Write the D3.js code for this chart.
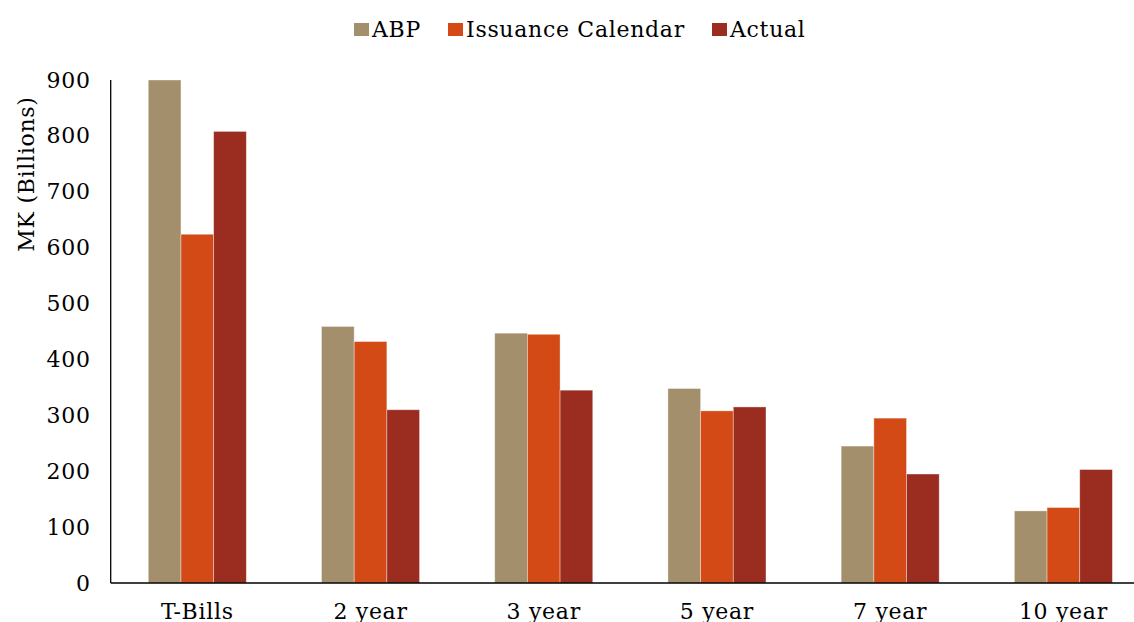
<!DOCTYPE html>
<html>
<head>
<meta charset="utf-8">
<script src="https://cdn.jsdelivr.net/npm/d3@7"></script>
<style>
  html, body { margin: 0; padding: 0; background: #fff; }
  svg { display: block; }
  text { font-family: "DejaVu Serif", "Liberation Serif", serif; fill: #000; }
</style>
</head>
<body>
<svg id="chart" width="1134" height="622"></svg>
<script>
const categories = ["T-Bills", "2 year", "3 year", "5 year", "7 year", "10 year"];
const seriesNames = ["ABP", "Issuance Calendar", "Actual"];
const abp = [900, 459, 447, 348, 245, 129];
const issuanceCalendar = [624, 432, 445, 308, 295, 135];
const actual = [808, 310, 345, 315, 195, 203];
const yTicks = [0, 100, 200, 300, 400, 500, 600, 700, 800, 900];
const colors = ["#A48F6C", "#D34A17", "#9B2C20"];

const seriesValues = [abp, issuanceCalendar, actual];

const FONT = '"DejaVu Serif", serif';
const FS = "22px";
const LS = "0.7px";

const svg = d3.select("#chart");
const mLeft = 110.7, mRight = 1150, mTop = 80, mBottom = 583;

const x0 = d3.scaleBand().domain(categories).range([mLeft, mRight])
  .paddingInner(0.434).paddingOuter(0.217);
const x1 = d3.scaleBand().domain(seriesNames).range([0, x0.bandwidth()]);
const y = d3.scaleLinear().domain([0, 900]).range([mBottom, mTop]);

// bars
const groups = svg.append("g").selectAll("g").data(categories).join("g")
  .attr("transform", d => `translate(${x0(d)},0)`);
groups.selectAll("rect")
  .data((c, i) => seriesNames.map((s, j) => ({ s, j, v: seriesValues[j][i] })))
  .join("rect")
  .attr("x", d => x1(d.s))
  .attr("width", x1.bandwidth())
  .attr("y", d => y(d.v))
  .attr("height", d => y(0) - y(d.v))
  .attr("fill", d => colors[d.j])
  .attr("stroke", "rgba(255,255,255,0.45)")
  .attr("stroke-width", 0.8);

// y axis
const yAxis = d3.axisLeft(y).tickValues(yTicks).tickSize(0).tickPadding(20);
const gy = svg.append("g").attr("transform", `translate(${mLeft},0)`).call(yAxis);
gy.select(".domain").remove();
gy.selectAll("text").style("font-family", FONT).style("font-size", FS)
  .style("letter-spacing", LS).attr("fill", "#000");
svg.append("line").attr("x1", mLeft).attr("x2", mLeft).attr("y1", mTop).attr("y2", mBottom)
  .attr("stroke", "#000").attr("stroke-width", 1.3);

// x axis
const xAxis = d3.axisBottom(x0).tickSize(0).tickPadding(20);
const gx = svg.append("g").attr("transform", `translate(0,${mBottom})`).call(xAxis);
gx.select(".domain").remove();
gx.selectAll("text").style("font-family", FONT).style("font-size", FS)
  .style("letter-spacing", LS).attr("fill", "#000");
svg.append("line").attr("x1", mLeft).attr("x2", 1134).attr("y1", mBottom).attr("y2", mBottom)
  .attr("stroke", "#000").attr("stroke-width", 1.3);

// y title
svg.append("text")
  .attr("transform", "translate(34,174) rotate(-90)")
  .attr("text-anchor", "middle")
  .style("font-size", FS)
  .style("letter-spacing", LS)
  .text("MK (Billions)");

// legend
const legendX = [354, 448, 712];
const lg = svg.append("g").selectAll("g").data(seriesNames).join("g")
  .attr("transform", (d, i) => `translate(${legendX[i]},0)`);
lg.append("rect").attr("x", 0).attr("y", 23).attr("width", 15).attr("height", 13)
  .attr("fill", (d, i) => colors[i]);
lg.append("text").attr("x", 18).attr("y", 37).style("font-size", FS)
  .style("letter-spacing", LS).text(d => d);
</script>
</body>
</html>
